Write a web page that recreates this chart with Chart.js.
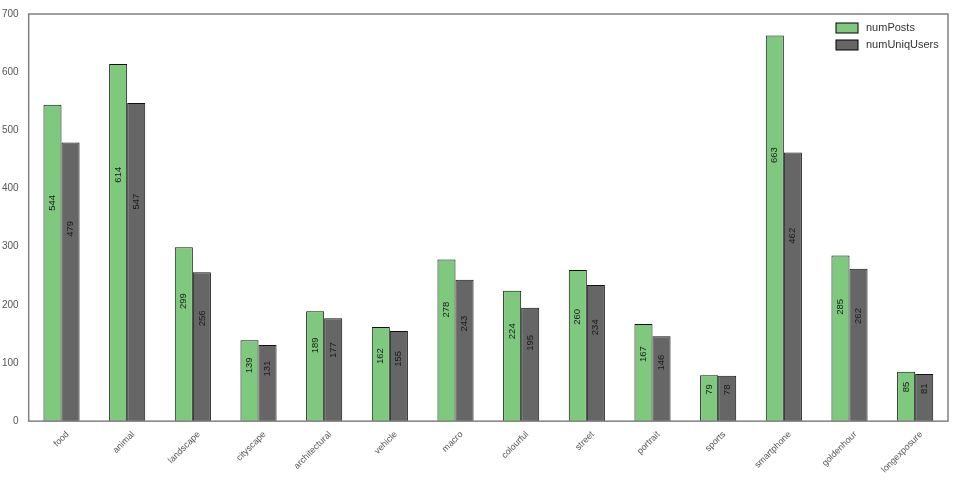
<!DOCTYPE html>
<html>
<head>
<meta charset="utf-8">
<script src="https://cdn.jsdelivr.net/npm/chart.js@4"></script>
<style>
  html, body { margin: 0; padding: 0; background: #fff; }
  #wrap { width: 960px; height: 486px; }
</style>
</head>
<body>
<div id="wrap"><canvas id="chart"></canvas></div>
<script>
const categories = ["food", "animal", "landscape", "cityscape", "architectural", "vehicle", "macro",
  "colourful", "street", "portrait", "sports", "smartphone", "goldenhour", "longexposure"];
const numPosts = [544, 614, 299, 139, 189, 162, 278, 224, 260, 167, 79, 663, 285, 85];
const numUniqUsers = [479, 547, 256, 131, 177, 155, 243, 195, 234, 146, 78, 462, 262, 81];
const yTicks = [0, 100, 200, 300, 400, 500, 600, 700];

const FONT = '"Liberation Sans", Arial, sans-serif';

// frame round the plot area, like the matplotlib axes box
const framePlugin = {
  id: 'frame',
  afterDraw(chart) {
    const a = chart.chartArea, ctx = chart.ctx;
    ctx.save();
    ctx.strokeStyle = '#808080';
    ctx.lineWidth = 1.5;
    ctx.strokeRect(a.left, a.top, a.right - a.left, a.bottom - a.top);
    ctx.restore();
  }
};

// rotated value labels inside the bars
const valueLabels = {
  id: 'valueLabels',
  afterDatasetsDraw(chart) {
    const ctx = chart.ctx, y = chart.scales.y;
    ctx.save();
    ctx.font = '9.5px ' + FONT;
    ctx.fillStyle = '#1a1a1a';
    ctx.textAlign = 'center';
    ctx.textBaseline = 'middle';
    chart.data.datasets.forEach(function(ds, i) {
      chart.getDatasetMeta(i).data.forEach(function(bar, j) {
        const v = ds.data[j];
        const py = y.getPixelForValue(v * 0.69);
        ctx.save();
        ctx.translate(bar.x, py);
        ctx.rotate(-Math.PI / 2);
        ctx.fillText(String(v), 0, 0);
        ctx.restore();
      });
    });
    ctx.restore();
  }
};

// legend drawn inside the plot, top right
const innerLegend = {
  id: 'innerLegend',
  afterDraw(chart) {
    const ctx = chart.ctx, a = chart.chartArea;
    ctx.save();
    ctx.font = '11px ' + FONT;
    ctx.textBaseline = 'middle';
    chart.data.datasets.forEach(function(ds, i) {
      const x = a.right - 112, yy = a.top + 14 + i * 17;
      ctx.fillStyle = ds.backgroundColor;
      ctx.fillRect(x, yy - 5, 22, 10);
      ctx.strokeStyle = '#000';
      ctx.lineWidth = 1;
      ctx.strokeRect(x, yy - 5, 22, 10);
      ctx.fillStyle = '#333';
      ctx.fillText(ds.label, x + 30, yy);
    });
    ctx.restore();
  }
};

new Chart('chart', {
  type: 'bar',
  data: {
    labels: categories,
    datasets: [{
      label: 'numPosts',
      data: numPosts,
      backgroundColor: '#7fc97f',
      borderColor: '#111',
      borderWidth: 1,
      borderSkipped: 'bottom'
    }, {
      label: 'numUniqUsers',
      data: numUniqUsers,
      backgroundColor: '#666666',
      borderColor: '#111',
      borderWidth: 1,
      borderSkipped: 'bottom'
    }]
  },
  options: {
    responsive: true,
    maintainAspectRatio: false,
    animation: false,
    layout: { padding: { top: 14, right: 12, left: 0, bottom: 11 } },
    categoryPercentage: 0.55,
    barPercentage: 1.0,
    plugins: {
      legend: { display: false },
      tooltip: { enabled: false }
    },
    scales: {
      y: {
        min: 0,
        max: 700,
        afterBuildTicks(scale) { scale.ticks = yTicks.map(v => ({ value: v })); },
        grid: { display: false },
        border: { display: false },
        ticks: { color: '#555', font: { size: 10, family: FONT }, padding: 2 }
      },
      x: {
        grid: { display: false },
        border: { display: false },
        ticks: {
          color: '#555',
          minRotation: 45,
          maxRotation: 45,
          padding: 0,
          labelOffset: 6,
          font: { size: 9, family: FONT }
        }
      }
    }
  },
  plugins: [framePlugin, valueLabels, innerLegend]
});
</script>
</body>
</html>
